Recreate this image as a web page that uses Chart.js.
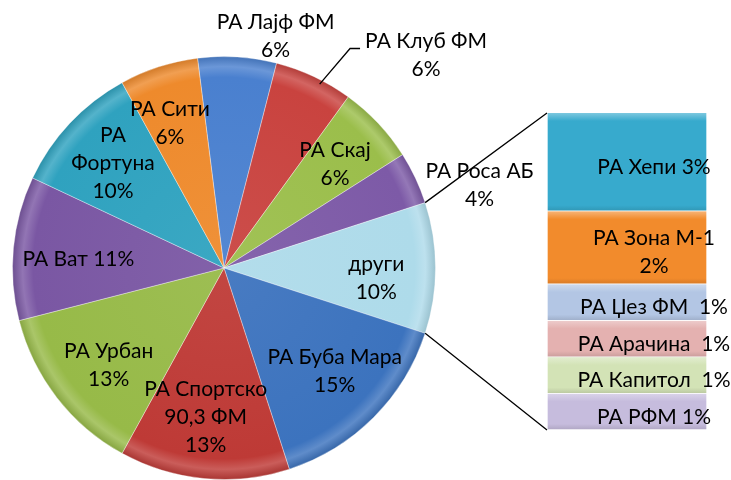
<!DOCTYPE html>
<html>
<head>
<meta charset="utf-8">
<script src="https://cdn.jsdelivr.net/npm/chart.js@4.4.1/dist/chart.umd.min.js"></script>
<style>
  html, body { margin: 0; padding: 0; background: #fff; }
  #wrap { position: relative; width: 731px; height: 480px; }
  #wrap canvas { position: absolute; left: 0; top: 0; }
</style>
</head>
<body>
<div id="wrap">
  <canvas id="pie" width="731" height="480"></canvas>
  <canvas id="bar" width="731" height="480"></canvas>
</div>
<script>
// stations shown in the bar (the "други" slice is split into these)
const barLabels = [["РА Хепи"], ["РА Зона М-1"], ["РА Џез ФМ "], ["РА Арачина "], ["РА Капитол "], ["РА РФМ"]];
const barValues = [3.1, 2.3, 1.15, 1.15, 1.15, 1.15];
const barColors = ["#37AACD", "#F28B2C", "#B3C6E4", "#E4B1B0", "#D3E3B6", "#C6BCDD"];
const barPctInline = [true, false, true, true, true, true];

const otherValue = barValues.reduce((a, b) => a + b, 0);
const OTHER = 4;

// main pie, clockwise from the top
const pieLabels = [["РА Лајф ФМ"], ["РА Клуб ФМ"], ["РА Скај"], ["РА Роса АБ"], ["други"], ["РА Буба Мара"],
  ["РА Спортско", "90,3 ФМ"], ["РА Урбан"], ["РА Ват"], ["РА", "Фортуна"], ["РА Сити"]];
const pieValues = [6, 6, 6, 4, otherValue, 15, 13, 13, 11, 10, 6];
const pieColors = ["#4A80CF", "#C9433F", "#9BBE4B", "#7D5AA7", "#AEDBEA", "#3C73BE", "#BE3A36", "#97BA48", "#7A57A3", "#2FA2BF", "#EE8A2C"];
const piePctInline = [false, false, false, false, false, false, false, false, true, false, false];

const total = pieValues.reduce((a, b) => a + b, 0);
const FONT = "21px Lato";
const LINE_H = 28;

// label placement: fraction of radius along the slice middle, plus a nudge
const pieLabelRadius = [1.1, 1.1, 0.72, 1.1, 0.72, 0.72, 0.72, 0.72, 0.72, 0.72, 0.72];
const pieLabelNudge = [[37, 0], [103, -2], [0, 0], [45, 16], [0, 10], [3, -4], [-4, -2], [5, 4], [6, 6], [0, -1], [-7, 0]];
const pieLeader = [false, true, false, false, false, false, false, false, false, false, false];

function pct(v) { return Math.round(v / total * 100) + "%"; }

function mix(hex, other, t) {
  const a = [1, 3, 5].map(k => parseInt(hex.substr(k, 2), 16));
  const b = [1, 3, 5].map(k => parseInt(other.substr(k, 2), 16));
  return "rgb(" + a.map((v, k) => Math.round(v + (b[k] - v) * t)).join(",") + ")";
}

function drawLines(ctx, lines, x, y) {
  const top = y - (lines.length - 1) * LINE_H / 2;
  lines.forEach((t, k) => ctx.fillText(t, x, top + k * LINE_H));
}

function textLines(name, value, inline) {
  const lines = name.slice();
  if (inline) lines[lines.length - 1] += " " + pct(value);
  else lines.push(pct(value));
  return lines;
}

function sliceFill(c) {
  const base = pieColors[c.dataIndex];
  const area = c.chart.chartArea;
  if (!area) return base;
  const cx = (area.left + area.right) / 2, cy = (area.top + area.bottom) / 2;
  const r = Math.min(area.width, area.height) / 2;
  const g = c.chart.ctx.createRadialGradient(cx, cy, 0, cx, cy, r);
  g.addColorStop(0, mix(base, "#ffffff", 0.06));
  g.addColorStop(0.9, base);
  g.addColorStop(0.95, mix(base, "#ffffff", 0.18));
  g.addColorStop(1, mix(base, "#000000", 0.12));
  return g;
}

const pieLabelPlugin = {
  id: "pieLabels",
  afterDatasetsDraw(chart) {
    const ctx = chart.ctx;
    const arcs = chart.getDatasetMeta(0).data;
    ctx.save();
    ctx.font = FONT;
    ctx.fillStyle = "#000";
    ctx.textAlign = "center";
    ctx.textBaseline = "middle";
    arcs.forEach((arc, i) => {
      const { x, y, startAngle, endAngle, outerRadius } = arc.getProps(["x", "y", "startAngle", "endAngle", "outerRadius"], true);
      const mid = (startAngle + endAngle) / 2;
      const r = outerRadius * pieLabelRadius[i];
      const lx = x + Math.cos(mid) * r + pieLabelNudge[i][0];
      const ly = y + Math.sin(mid) * r + pieLabelNudge[i][1];
      if (pieLeader[i]) {
        const ex = x + Math.cos(mid + 0.04) * outerRadius * 0.98;
        const ey = y + Math.sin(mid + 0.04) * outerRadius * 0.98;
        ctx.beginPath();
        ctx.strokeStyle = "#000";
        ctx.lineWidth = 1.3;
        ctx.moveTo(ex, ey);
        ctx.lineTo(lx - 76, ly - 7);
        ctx.lineTo(lx - 66, ly - 7);
        ctx.stroke();
      }
      drawLines(ctx, textLines(pieLabels[i], pieValues[i], piePctInline[i]), lx, ly);
    });
    ctx.restore();
  }
};

// turn the pie so that the "други" slice faces the bar
const beforeOther = pieValues.slice(0, OTHER).reduce((a, b) => a + b, 0);
const pieRotation = 90 - (beforeOther + otherValue / 2) / total * 360;

const pieChart = new Chart(document.getElementById("pie"), {
  type: "pie",
  data: {
    labels: pieLabels,
    datasets: [{
      data: pieValues,
      backgroundColor: sliceFill,
      borderColor: "rgba(255,255,255,0.35)",
      borderWidth: 1
    }]
  },
  options: {
    responsive: false,
    animation: false,
    rotation: pieRotation,
    layout: { padding: { left: 12, right: 295, top: 56, bottom: 0 } },
    plugins: { legend: { display: false }, tooltip: { enabled: false } }
  },
  plugins: [pieLabelPlugin]
});

function segmentFill(c) {
  const base = barColors[c.datasetIndex];
  const y = c.chart.scales && c.chart.scales.y;
  if (!y || !c.chart.chartArea) return base;
  const from = barValues.slice(0, c.datasetIndex).reduce((a, b) => a + b, 0);
  const y0 = y.getPixelForValue(from), y1 = y.getPixelForValue(from + barValues[c.datasetIndex]);
  const g = c.chart.ctx.createLinearGradient(0, y0, 0, y1);
  g.addColorStop(0, mix(base, "#ffffff", 0.35));
  g.addColorStop(Math.min(0.3, 8 / (y1 - y0)), base);
  g.addColorStop(Math.max(0.7, 1 - 6 / (y1 - y0)), base);
  g.addColorStop(1, mix(base, "#000000", 0.12));
  return g;
}

const barLabelPlugin = {
  id: "barLabels",
  afterDatasetsDraw(chart) {
    const ctx = chart.ctx;
    ctx.save();
    // connector lines from the "други" slice to the bar
    const other = pieChart.getDatasetMeta(0).data[OTHER];
    const p = other.getProps(["x", "y", "startAngle", "endAngle", "outerRadius"], true);
    const first = chart.getDatasetMeta(0).data[0];
    const last = chart.getDatasetMeta(barValues.length - 1).data[0];
    const left = first.x - first.width / 2;
    ctx.strokeStyle = "#000";
    ctx.lineWidth = 1.3;
    ctx.beginPath();
    ctx.moveTo(p.x + Math.cos(p.startAngle) * p.outerRadius, p.y + Math.sin(p.startAngle) * p.outerRadius);
    ctx.lineTo(left, Math.min(first.y, first.base));
    ctx.moveTo(p.x + Math.cos(p.endAngle) * p.outerRadius, p.y + Math.sin(p.endAngle) * p.outerRadius);
    ctx.lineTo(left, Math.max(last.y, last.base));
    ctx.stroke();

    ctx.font = FONT;
    ctx.fillStyle = "#000";
    ctx.textAlign = "center";
    ctx.textBaseline = "middle";
    barValues.forEach((v, i) => {
      const el = chart.getDatasetMeta(i).data[0];
      const cx = el.x + 27;
      const cy = (el.y + el.base) / 2 + 5;
      drawLines(ctx, textLines(barLabels[i], v, barPctInline[i]), cx, cy);
    });
    ctx.restore();
  }
};

new Chart(document.getElementById("bar"), {
  type: "bar",
  data: {
    labels: ["други"],
    datasets: barValues.map((v, i) => ({
      label: barLabels[i].join(" "),
      data: [v],
      backgroundColor: segmentFill,
      borderColor: "rgba(255,255,255,0.5)",
      borderWidth: 1,
      barPercentage: 1,
      categoryPercentage: 1
    }))
  },
  options: {
    responsive: false,
    animation: false,
    layout: { padding: { left: 547, right: 24, top: 113, bottom: 50 } },
    scales: {
      x: { display: false, stacked: true },
      y: { display: false, stacked: true, min: 0, max: otherValue, reverse: true }
    },
    plugins: { legend: { display: false }, tooltip: { enabled: false } }
  },
  plugins: [barLabelPlugin]
});
</script>
</body>
</html>
